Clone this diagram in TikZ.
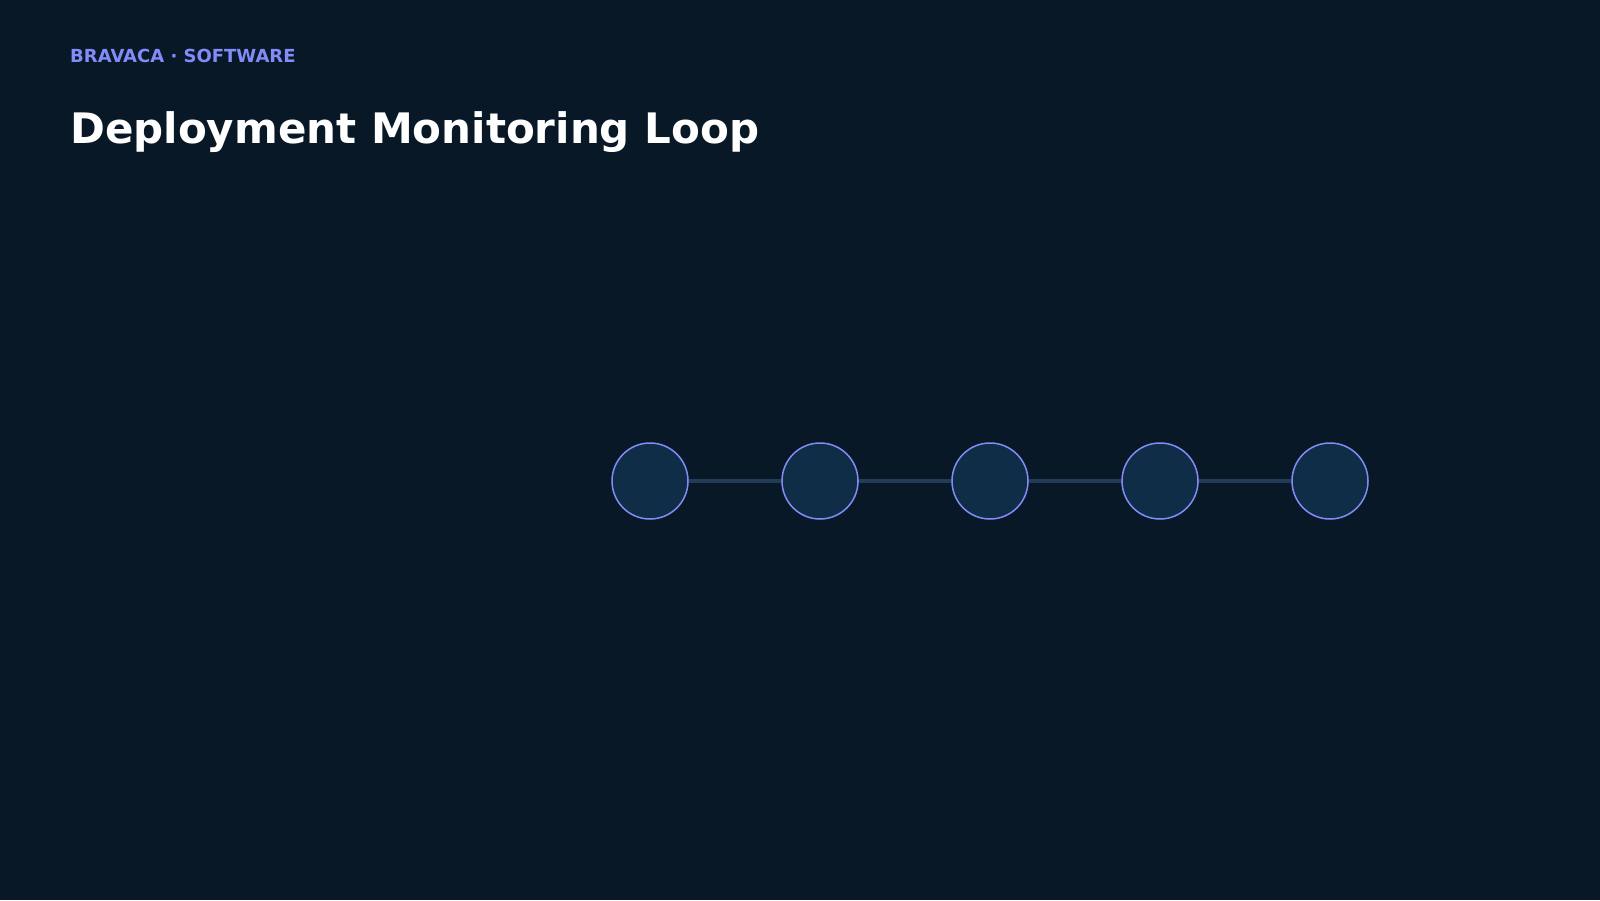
\documentclass[tikz,border=0pt]{standalone}
\usepackage{fontspec}
\setmainfont{DejaVu Sans}
\definecolor{bgdark}{HTML}{081826}
\definecolor{stepfill}{HTML}{0F2D47}
\definecolor{steprim}{HTML}{818CF8}
\definecolor{linkgray}{HTML}{203C56}
\tikzset{
    stage/.style={circle, draw=steprim, line width=1.5pt, fill=stepfill, minimum size=76pt, inner sep=0pt},
    link/.style={draw=linkgray, line width=4pt}
}
\begin{document}
\begin{tikzpicture}[x=1pt,y=-1pt]
    \fill[bgdark] (0,0) rectangle (1600,900);
    \useasboundingbox (0,0) rectangle (1600,900);
    \node[anchor=base west, text=steprim, font=\bfseries\fontsize{18}{20}\selectfont, inner sep=0pt] (brand) at (70,62) {BRAVACA \textperiodcentered{} SOFTWARE};
    \node[anchor=base west, text=white, font=\bfseries\fontsize{42}{48}\selectfont, inner sep=0pt] (title) at (70,143) {Deployment Monitoring Loop};
    \foreach \i in {1,...,5}
        \coordinate (c\i) at (480+170*\i,481);
    \draw[link] (c1) -- (c5);
    \foreach \i in {1,...,5}
        \node[stage] (s\i) at (c\i) {};
\end{tikzpicture}
\end{document}
